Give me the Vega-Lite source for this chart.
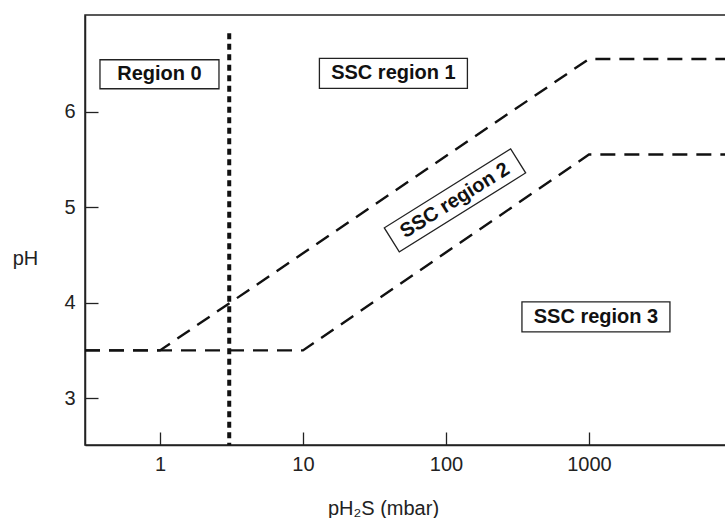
{
  "$schema": "https://vega.github.io/schema/vega-lite/v6.json",
  "width": 641,
  "height": 430,
  "autosize": "none",
  "padding": {"left": 85, "top": 15, "right": 0, "bottom": 73},
  "background": "white",
  "config": {
    "view": {"stroke": "#222", "strokeWidth": 1.5},
    "font": "Liberation Sans",
    "axis": {
      "grid": false,
      "domainColor": "#222",
      "domainWidth": 1.5,
      "tickColor": "#222",
      "tickWidth": 1.3,
      "labelFont": "Liberation Sans",
      "labelFontSize": 20,
      "labelColor": "#222",
      "titleFont": "Liberation Sans",
      "titleFontSize": 20,
      "titleFontWeight": "normal",
      "titleColor": "#222"
    }
  },
  "datasets": {
    "curves": [
      {"series": "upper", "p": 0.299, "pH": 3.5, "o": 1},
      {"series": "upper", "p": 1, "pH": 3.5, "o": 2},
      {"series": "upper", "p": 1000, "pH": 6.55, "o": 3},
      {"series": "upper", "p": 9085, "pH": 6.55, "o": 4},
      {"series": "lower", "p": 0.299, "pH": 3.5, "o": 1},
      {"series": "lower", "p": 10, "pH": 3.5, "o": 2},
      {"series": "lower", "p": 1000, "pH": 5.55, "o": 3},
      {"series": "lower", "p": 9085, "pH": 5.55, "o": 4}
    ],
    "limit": [{"p": 3.05, "top": 6.82, "bottom": 2.51}],
    "labels": [
      {"label": "Region 0", "p": 0.992, "pH": 6.39},
      {"label": "SSC region 1", "p": 42.9, "pH": 6.40},
      {"label": "SSC region 2", "p": 115.6, "pH": 5.07},
      {"label": "SSC region 3", "p": 1119, "pH": 3.85}
    ]
  },
  "layer": [
    {
      "data": {"name": "curves"},
      "mark": {"type": "line", "color": "#111", "strokeWidth": 2.4, "strokeDash": [15, 9]},
      "encoding": {
        "x": {
          "field": "p", "type": "quantitative",
          "scale": {"type": "log", "domain": [0.299, 9085], "nice": false},
          "axis": {
            "values": [1, 10, 100, 1000], "format": "d",
            "tickSize": -13, "labelPadding": 22,
            "title": "pH₂S (mbar)",
            "titleX": 298, "titleY": 63, "titleAlign": "center", "titleBaseline": "middle"
          }
        },
        "y": {
          "field": "pH", "type": "quantitative",
          "scale": {"domain": [2.51, 7.01], "nice": false, "zero": false},
          "axis": {
            "values": [3, 4, 5, 6], "format": "d",
            "tickSize": -13, "labelPadding": 23,
            "title": "pH", "titleAngle": 0,
            "titleX": -60, "titleY": 243, "titleAlign": "center", "titleBaseline": "middle"
          }
        },
        "detail": {"field": "series"},
        "order": {"field": "o", "type": "quantitative"}
      }
    },
    {
      "data": {"name": "limit"},
      "mark": {"type": "rule", "color": "#111", "strokeWidth": 4, "strokeDash": [6, 4.5]},
      "encoding": {
        "x": {"field": "p", "type": "quantitative"},
        "y": {"field": "top", "type": "quantitative"},
        "y2": {"field": "bottom"}
      }
    },
    {
      "data": {"name": "labels"},
      "transform": [{"filter": "datum.label === 'Region 0'"}],
      "mark": {"type": "point", "shape": "M-1,-0.2437L1,-0.2437L1,0.2437L-1,0.2437Z", "size": 14161, "filled": true, "fill": "white", "stroke": "#222", "strokeWidth": 1.3, "opacity": 1},
      "encoding": {
        "x": {"field": "p", "type": "quantitative"},
        "y": {"field": "pH", "type": "quantitative"}
      }
    },
    {
      "data": {"name": "labels"},
      "transform": [{"filter": "datum.label === 'SSC region 1' || datum.label === 'SSC region 3'"}],
      "mark": {"type": "point", "shape": "M-1,-0.2027L1,-0.2027L1,0.2027L-1,0.2027Z", "size": 21904, "filled": true, "fill": "white", "stroke": "#222", "strokeWidth": 1.3, "opacity": 1},
      "encoding": {
        "x": {"field": "p", "type": "quantitative"},
        "y": {"field": "pH", "type": "quantitative"}
      }
    },
    {
      "data": {"name": "labels"},
      "transform": [{"filter": "datum.label === 'SSC region 2'"}],
      "mark": {"type": "point", "shape": "M-1,-0.19L1,-0.19L1,0.19L-1,0.19Z", "size": 22200, "angle": 328, "filled": true, "fill": "white", "stroke": "#222", "strokeWidth": 1.3, "opacity": 1},
      "encoding": {
        "x": {"field": "p", "type": "quantitative"},
        "y": {"field": "pH", "type": "quantitative"}
      }
    },
    {
      "data": {"name": "labels"},
      "transform": [{"filter": "datum.label !== 'SSC region 2'"}],
      "mark": {"type": "text", "font": "Liberation Sans", "fontWeight": "bold", "fontSize": 20, "color": "#111", "align": "center", "baseline": "middle"},
      "encoding": {
        "x": {"field": "p", "type": "quantitative"},
        "y": {"field": "pH", "type": "quantitative"},
        "text": {"field": "label"}
      }
    },
    {
      "data": {"name": "labels"},
      "transform": [{"filter": "datum.label === 'SSC region 2'"}],
      "mark": {"type": "text", "font": "Liberation Sans", "fontWeight": "bold", "fontSize": 20, "color": "#111", "align": "center", "baseline": "middle", "angle": 328},
      "encoding": {
        "x": {"field": "p", "type": "quantitative"},
        "y": {"field": "pH", "type": "quantitative"},
        "text": {"field": "label"}
      }
    }
  ]
}
